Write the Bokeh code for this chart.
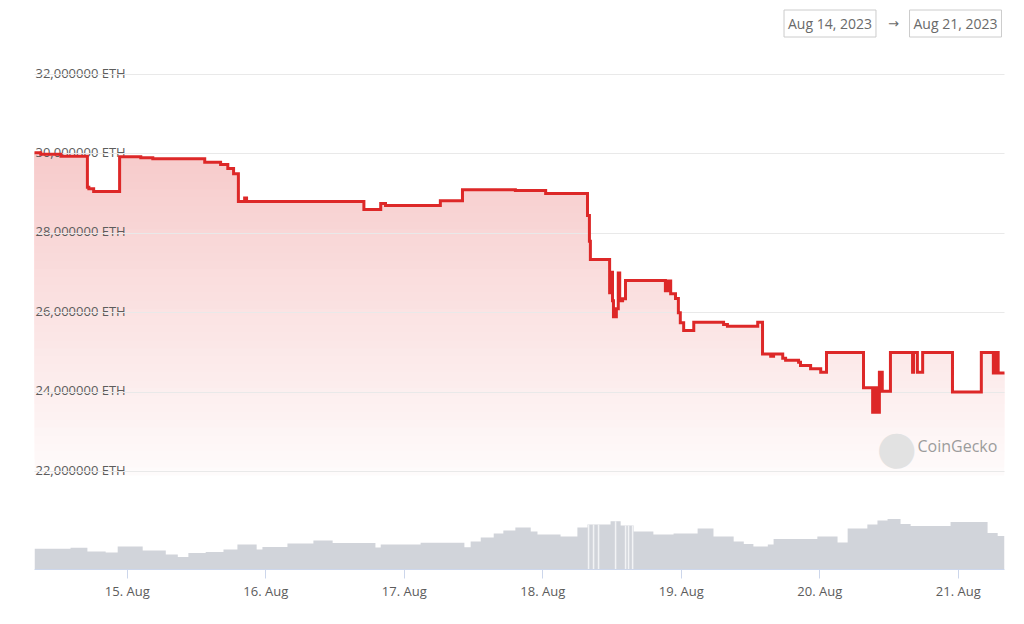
import numpy as np
import pandas as pd
from bokeh.plotting import figure
from bokeh.models import Range1d, FixedTicker, Label, DatetimeTickFormatter
from bokeh.core.properties import value
from bokeh.embed import file_html
from bokeh.resources import INLINE

# ------------------------------------------------------------------ data
# Holdings (million ETH), step series: value holds until the next time stamp
price_times = [
    "2023-08-14 07:55", "2023-08-14 09:00", "2023-08-14 12:30", "2023-08-14 17:05",
    "2023-08-14 17:20", "2023-08-14 18:10", "2023-08-14 22:40", "2023-08-15 02:20",
    "2023-08-15 04:25", "2023-08-15 13:25", "2023-08-15 16:10", "2023-08-15 17:25",
    "2023-08-15 18:25", "2023-08-15 19:15", "2023-08-15 20:20", "2023-08-15 20:40",
    "2023-08-16 17:00", "2023-08-16 19:55", "2023-08-16 20:45", "2023-08-17 06:15",
    "2023-08-17 10:05", "2023-08-17 19:15", "2023-08-18 00:30", "2023-08-18 07:45",
    "2023-08-18 08:05", "2023-08-18 08:15", "2023-08-18 11:35", "2023-08-18 11:55",
    "2023-08-18 12:05", "2023-08-18 12:15", "2023-08-18 12:45", "2023-08-18 13:05",
    "2023-08-18 13:20", "2023-08-18 13:50", "2023-08-18 14:20", "2023-08-18 21:15",
    "2023-08-18 21:40", "2023-08-18 22:10", "2023-08-18 23:00", "2023-08-18 23:30",
    "2023-08-18 23:50", "2023-08-19 00:25", "2023-08-19 02:10", "2023-08-19 07:20",
    "2023-08-19 08:00", "2023-08-19 13:15", "2023-08-19 14:05", "2023-08-19 15:30",
    "2023-08-19 16:00", "2023-08-19 17:35", "2023-08-19 18:05", "2023-08-19 20:20",
    "2023-08-19 20:40", "2023-08-19 22:25", "2023-08-20 00:10", "2023-08-20 01:10",
    "2023-08-20 07:35", "2023-08-20 09:10", "2023-08-20 09:30", "2023-08-20 09:50",
    "2023-08-20 10:20", "2023-08-20 10:50", "2023-08-20 12:15", "2023-08-20 16:05",
    "2023-08-20 16:15", "2023-08-20 16:55", "2023-08-20 17:50", "2023-08-20 23:00",
    "2023-08-21 04:00", "2023-08-21 06:05", "2023-08-21 06:35", "2023-08-21 06:55",
    "2023-08-21 08:01",
]
price_values = [
    30.03, 29.99, 29.94, 29.16,
    29.12, 29.05, 29.93, 29.90,
    29.88, 29.79, 29.73, 29.63,
    29.50, 28.80, 28.89, 28.80,
    28.60, 28.75, 28.70, 28.82,
    29.10, 29.08, 29.00, 28.45,
    27.80, 27.34, 26.50, 27.02,
    26.30, 25.90, 26.10, 27.00,
    26.30, 26.35, 26.81, 26.55,
    26.80, 26.48, 26.36, 26.00,
    25.75, 25.55, 25.76, 25.70,
    25.66, 25.76, 24.96, 24.90,
    24.96, 24.85, 24.80, 24.75,
    24.67, 24.59, 24.50, 25.00,
    24.11, 23.49, 24.11, 23.49,
    24.50, 24.02, 25.00, 24.50,
    25.00, 24.50, 25.00, 24.00,
    25.00, 24.48, 25.00, 24.48,
    24.48,
]

# Volume (relative units), step series
volume_times = [
    "2023-08-14 07:55", "2023-08-14 14:10", "2023-08-14 17:05", "2023-08-14 20:15",
    "2023-08-14 22:20", "2023-08-15 02:40", "2023-08-15 06:40", "2023-08-15 08:45",
    "2023-08-15 10:35", "2023-08-15 13:35", "2023-08-15 16:40", "2023-08-15 19:05",
    "2023-08-15 22:25", "2023-08-15 23:25", "2023-08-16 03:45", "2023-08-16 08:15",
    "2023-08-16 11:35", "2023-08-16 19:00", "2023-08-16 19:55", "2023-08-17 02:50",
    "2023-08-17 10:25", "2023-08-17 11:30", "2023-08-17 13:15", "2023-08-17 15:30",
    "2023-08-17 17:10", "2023-08-17 19:15", "2023-08-17 21:55", "2023-08-17 23:05",
    "2023-08-18 03:05", "2023-08-18 06:00", "2023-08-18 07:45", "2023-08-18 11:45",
    "2023-08-18 13:30", "2023-08-18 15:45", "2023-08-18 19:10", "2023-08-18 22:40",
    "2023-08-19 02:50", "2023-08-19 05:35", "2023-08-19 09:05", "2023-08-19 10:50",
    "2023-08-19 12:30", "2023-08-19 15:00", "2023-08-19 16:00", "2023-08-19 23:35",
    "2023-08-20 03:05", "2023-08-20 04:50", "2023-08-20 08:15", "2023-08-20 10:00",
    "2023-08-20 11:45", "2023-08-20 14:00", "2023-08-20 15:45", "2023-08-20 22:40",
    "2023-08-21 05:05", "2023-08-21 06:50", "2023-08-21 08:01",
]
volume_values = [
    20.7, 21.7, 18.0, 17.0,
    23.0, 19.0, 15.0, 12.5,
    16.5, 17.5, 20.0, 25.0,
    20.0, 22.5, 26.0, 29.0,
    26.5, 22.0, 25.0, 26.7,
    22.3, 28.0, 32.0, 36.0,
    39.0, 42.0, 38.0, 35.0,
    33.0, 42.0, 45.0, 48.3,
    44.0, 38.0, 35.0, 36.0,
    41.0, 33.0, 28.0, 25.5,
    23.0, 25.0, 30.5, 33.0,
    27.0, 41.0, 45.0, 49.0,
    50.5, 45.5, 43.5, 47.5,
    36.5, 33.5, 33.5,
]
volume_gap_times = [
    "2023-08-18 07:56", "2023-08-18 08:48", "2023-08-18 09:40", "2023-08-18 12:37",
    "2023-08-18 14:21", "2023-08-18 14:52", "2023-08-18 15:34",
]

y_ticks = [22, 24, 26, 28, 30, 32]
y_tick_labels = ["22,000000 ETH", "24,000000 ETH", "26,000000 ETH",
                 "28,000000 ETH", "30,000000 ETH", "32,000000 ETH"]

x_tick_days = ["2023-08-15", "2023-08-16", "2023-08-17", "2023-08-18",
               "2023-08-19", "2023-08-20", "2023-08-21"]
x_tick_labels = ["15. Aug", "16. Aug", "17. Aug", "18. Aug",
                 "19. Aug", "20. Aug", "21. Aug"]

date_from = "Aug 14, 2023"
date_to = "Aug 21, 2023"
watermark = "CoinGecko"


# ------------------------------------------------------------------ helpers
def to_ms(times):
    return (pd.to_datetime(times).asi8 // 10**6).astype(float)


def step_xy(times, vals):
    t = to_ms(times)
    v = np.asarray(vals, dtype=float)
    xs = np.repeat(t, 2)[1:-1]
    ys = np.repeat(v[:-1], 2)
    return xs, ys


px, py = step_xy(price_times, price_values)
vx, vy = step_xy(volume_times, volume_values)

view_start = to_ms(price_times)[0]
view_end = to_ms(price_times)[-1]

FONT = "Open Sans"
TXT = "#5c5c5c"
RED = (221, 40, 40)

# ------------------------------------------------------------------ figure
# frame spans page x 34..1004 and y 0..569 (top area hosts the date boxes)
W, H = 1016, 616
FRAME_H = 569
PX_PER_UNIT = 39.7          # vertical scale of the holdings pane
y_top = 32 + 74 / PX_PER_UNIT
y_bot = 32 - (FRAME_H - 74) / PX_PER_UNIT

p = figure(width=W, height=H, x_axis_type="datetime", y_axis_location=None,
           output_backend="svg", toolbar_location=None,
           min_border_left=34, min_border_right=12,
           min_border_top=0, min_border_bottom=H - FRAME_H,
           x_range=Range1d(view_start, view_end),
           y_range=Range1d(y_bot, y_top))
p.outline_line_color = None
p.background_fill_color = "white"
p.border_fill_color = "white"

p.extra_y_ranges = {"vol": Range1d(0, FRAME_H)}

# grid (only main pane ticks)
p.xgrid.visible = False
p.ygrid.ticker = FixedTicker(ticks=y_ticks)
p.ygrid.grid_line_color = "#e9e9e9"
p.ygrid.grid_line_width = 1
p.ygrid.level = "guide"

# gradient area fill built from horizontal bands
base = 21.9
step = 0.2
for e in np.arange(base, 32.0, step):
    mid = e + step / 2
    a = max(0.0, min(0.32, 0.02 + 0.28 * (mid - 22.0) / 10.0))
    col = tuple(int(round(255 - a * (255 - c))) for c in RED)
    p.varea(x=px, y1=e, y2=np.maximum(py, e),
            fill_color="#%02x%02x%02x" % col, fill_alpha=1.0)

# price line
p.line(px, py, line_color="#dd2828", line_width=3, line_join="miter",
       level="annotation")

# volume pane
p.varea(x=vx, y1=0, y2=vy, fill_color="#d1d4da", y_range_name="vol")
gx = to_ms(volume_gap_times)
vt = to_ms(volume_times)
gidx = np.searchsorted(vt, gx, side="right") - 1
gy = np.asarray(volume_values, float)[gidx]
p.segment(x0=gx, y0=np.zeros_like(gx), x1=gx, y1=gy, line_color="#f2f3f5",
          line_width=1.5, y_range_name="vol")

# y tick labels drawn inside the plot area
p.text(x=[view_start] * len(y_ticks), y=y_ticks, text=y_tick_labels,
       text_font=value(FONT), text_font_size="13px", text_color=TXT,
       text_align="left", text_baseline="alphabetic", x_offset=1, y_offset=-2)

# x axis
ax = p.xaxis[0]
tick_ms = to_ms(x_tick_days)
ax.ticker = FixedTicker(ticks=list(tick_ms))
ax.formatter = DatetimeTickFormatter(days="%d. %b", hours="%d. %b", months="%d. %b")
ax.major_label_overrides = {float(t): lab for t, lab in zip(tick_ms, x_tick_labels)}
ax.axis_line_color = "#ccd6eb"
ax.major_tick_line_color = "#ccd6eb"
ax.major_tick_in = 0
ax.major_tick_out = 9
ax.minor_tick_in = 0
ax.minor_tick_out = 0
ax.major_label_text_font = FONT
ax.major_label_text_font_size = "13px"
ax.major_label_text_color = TXT
ax.major_label_standoff = 3

# ------------------------------------------------------------------ annotations (screen units, relative to frame)
FL, FB = 34, FRAME_H  # frame left / bottom in page pixels


def sx(xp):
    return xp - FL


def sy(yp):
    return FB - yp


for txt, cx in ((date_from, 829.5), (date_to, 955.0)):
    p.add_layout(Label(x=sx(cx), y=sy(23), x_units="screen", y_units="screen",
                       text=txt, text_align="center", text_baseline="middle",
                       text_font=FONT, text_font_size="14px", text_color="#6a6a6a",
                       background_fill_color="white", border_line_color="#cccccc",
                       border_line_width=1, padding=4))
p.add_layout(Label(x=sx(893), y=sy(23), x_units="screen", y_units="screen",
                   text="\u2192", text_align="center", text_baseline="middle",
                   text_font="DejaVu Sans", text_font_size="13px", text_color="#6a6a6a"))

# watermark
p.add_layout(Label(x=sx(896), y=sy(446), x_units="screen", y_units="screen",
                   text="\u25CF", text_align="center", text_baseline="middle",
                   text_font="DejaVu Sans", text_font_size="46px", text_color="#e2e2e2"))
p.add_layout(Label(x=sx(917), y=sy(445), x_units="screen", y_units="screen",
                   text=watermark, text_align="left", text_baseline="middle",
                   text_font=FONT, text_font_size="16px", text_color="#9c9c9c"))

open("out.html", "w").write(file_html(p, INLINE))
